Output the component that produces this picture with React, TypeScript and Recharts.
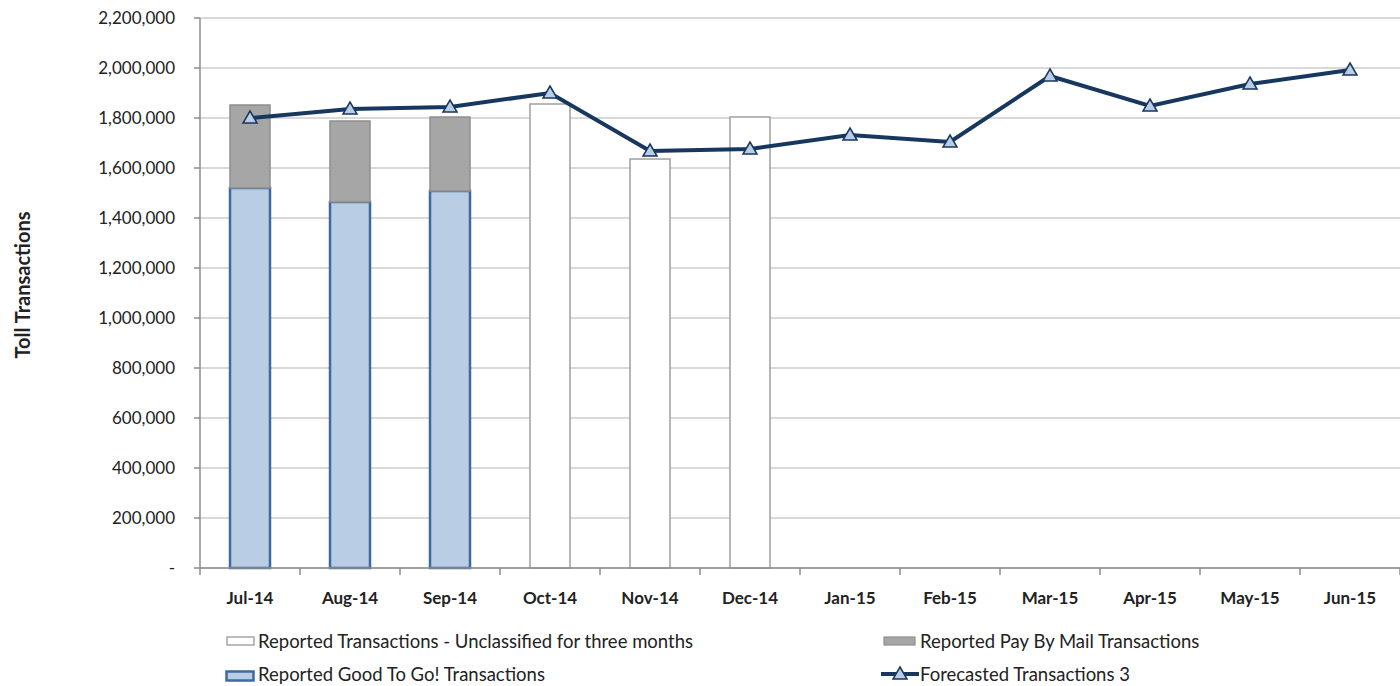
import React from "react";
import {
  ComposedChart,
  Bar,
  Line,
  XAxis,
  YAxis,
  CartesianGrid,
} from "recharts";

const months = [
  "Jul-14", "Aug-14", "Sep-14", "Oct-14", "Nov-14", "Dec-14",
  "Jan-15", "Feb-15", "Mar-15", "Apr-15", "May-15", "Jun-15",
];
const goodToGo = [1520000, 1464000, 1508000, null, null, null, null, null, null, null, null, null];
const payByMail = [332000, 324000, 296000, null, null, null, null, null, null, null, null, null];
const unclassified = [null, null, null, 1856000, 1636000, 1804000, null, null, null, null, null, null];
const forecast = [1800000, 1836000, 1844000, 1900000, 1668000, 1676000, 1732000, 1704000, 1968000, 1848000, 1936000, 1992000];
const yTicks = [0, 200000, 400000, 600000, 800000, 1000000, 1200000, 1400000, 1600000, 1800000, 2000000, 2200000];

const data = months.map((m, i) => ({
  month: m,
  gtg: goodToGo[i],
  pbm: payByMail[i],
  unc: unclassified[i],
  fc: forecast[i],
}));

const FONT = "Lato, 'Open Sans', sans-serif";
const NAVY = "#17375e";
const LIGHT_BLUE = "#b9cde5";
const AXIS_GREY = "#8c8c8c";
const TICK_GAP = 24;

const Triangle = (props: any) => {
  const { cx, cy } = props;
  if (cx == null || cy == null) return null;
  return (
    <path
      d={`M${cx},${cy - 7} L${cx + 7},${cy + 5} L${cx - 7},${cy + 5} Z`}
      fill={LIGHT_BLUE}
      stroke={NAVY}
      strokeWidth={1.5}
    />
  );
};

// month label plus the tick marks on the band edges (Excel style)
const MonthTick = (props: any) => {
  const { x, y, payload, index, visibleTicksCount } = props;
  const half = payload?.offset ?? 50;
  const axisY = y - TICK_GAP;
  const isLast = index === visibleTicksCount - 1;
  return (
    <g>
      <line x1={x - half} y1={axisY} x2={x - half} y2={axisY + 7} stroke={AXIS_GREY} strokeWidth={1.5} />
      {isLast && (
        <line x1={x + half} y1={axisY} x2={x + half} y2={axisY + 7} stroke={AXIS_GREY} strokeWidth={1.5} />
      )}
      <text
        x={x}
        y={y}
        dy="0.71em"
        textAnchor="middle"
        fill="#222"
        fontSize={17}
        fontWeight={700}
        fontFamily={FONT}
      >
        {payload.value}
      </text>
    </g>
  );
};

const legendText: React.CSSProperties = {
  position: "absolute",
  fontFamily: FONT,
  fontSize: 18.5,
  color: "#222",
  whiteSpace: "nowrap",
  lineHeight: "22px",
};

export default function App() {
  return (
    <div style={{ position: "absolute", left: 0, top: 0, width: 1400, height: 686, background: "#fff" }}>
      <ComposedChart
        width={1400}
        height={640}
        data={data}
        margin={{ top: 18, right: 0, bottom: 22, left: 0 }}
      >
        <CartesianGrid horizontal vertical={false} stroke="#b4b4b4" strokeWidth={1.2} />
        <XAxis
          dataKey="month"
          height={50}
          axisLine={{ stroke: AXIS_GREY, strokeWidth: 1.5 }}
          tickLine={false}
          tickSize={0}
          tickMargin={TICK_GAP}
          tick={<MonthTick />}
          interval={0}
        />
        <YAxis
          width={200}
          domain={[0, 2200000]}
          ticks={yTicks}
          interval={0}
          tickSize={6}
          tickMargin={19}
          axisLine={{ stroke: AXIS_GREY, strokeWidth: 1.5 }}
          tickLine={{ stroke: AXIS_GREY, strokeWidth: 1.5 }}
          tick={{ fill: "#222", fontSize: 17, fontFamily: FONT }}
          tickFormatter={(v: number) => (v === 0 ? "-" : v.toLocaleString("en-US"))}
          label={{
            value: "Toll Transactions",
            angle: -90,
            position: "insideLeft",
            offset: 23,
            dy: -8,
            style: { fontFamily: FONT, fontSize: 20, fontWeight: 700, fill: "#222", textAnchor: "middle" },
          }}
        />
        <Bar dataKey="gtg" stackId="s" barSize={40} fill={LIGHT_BLUE} stroke="#3e6aa0" strokeWidth={2.5} isAnimationActive={false} />
        <Bar dataKey="pbm" stackId="s" barSize={40} fill="#a6a6a6" stroke="#8f8f8f" strokeWidth={1.5} isAnimationActive={false} />
        <Bar dataKey="unc" stackId="s" barSize={40} fill="#ffffff" stroke="#a0a0a0" strokeWidth={1.5} isAnimationActive={false} />
        <Line
          dataKey="fc"
          type="linear"
          stroke={NAVY}
          strokeWidth={4}
          dot={<Triangle />}
          activeDot={false}
          isAnimationActive={false}
        />
      </ComposedChart>

      {/* legend */}
      <svg style={{ position: "absolute", left: 226, top: 636 }} width={30} height={12}>
        <rect x={1} y={1} width={27} height={8} fill="#fff" stroke="#8f8f8f" strokeWidth={1.2} />
      </svg>
      <div style={{ ...legendText, left: 258, top: 630 }}>Reported Transactions - Unclassified for three months</div>

      <svg style={{ position: "absolute", left: 883, top: 636 }} width={34} height={12}>
        <rect x={1} y={1} width={31} height={8} fill="#a6a6a6" stroke="#8f8f8f" strokeWidth={1.2} />
      </svg>
      <div style={{ ...legendText, left: 920, top: 630 }}>Reported Pay By Mail Transactions</div>

      <svg style={{ position: "absolute", left: 225, top: 670 }} width={32} height={14}>
        <rect x={1.5} y={1.5} width={27} height={9} fill={LIGHT_BLUE} stroke="#3e6aa0" strokeWidth={2.5} />
      </svg>
      <div style={{ ...legendText, left: 258, top: 663 }}>Reported Good To Go! Transactions</div>

      <svg style={{ position: "absolute", left: 880, top: 664 }} width={40} height={18}>
        <line x1={1} y1={10} x2={39} y2={10} stroke={NAVY} strokeWidth={4} />
        <path d="M20,3 L27,15 L13,15 Z" fill={LIGHT_BLUE} stroke={NAVY} strokeWidth={1.5} />
      </svg>
      <div style={{ ...legendText, left: 920, top: 663 }}>Forecasted Transactions 3</div>
    </div>
  );
}
